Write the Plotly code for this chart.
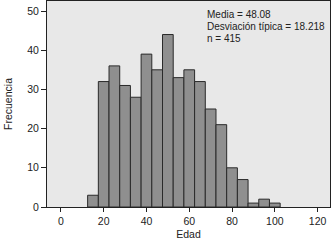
import plotly.graph_objects as go

bin_centers = [15, 20, 25, 30, 35, 40, 45, 50, 55, 60, 65, 70, 75, 80, 85, 90, 95, 100]
frequencies = [3, 32, 36, 31, 28, 39, 35, 44, 33, 35, 32, 25, 21, 10, 7, 1, 2, 1]
stats_lines = ["Media = 48.08", "Desviación típica = 18.218", "n = 415"]
x_ticks = [0, 20, 40, 60, 80, 100, 120]
y_ticks = [0, 10, 20, 30, 40, 50]

fig = go.Figure()
fig.add_trace(go.Bar(
    x=bin_centers, y=frequencies, width=5,
    marker=dict(color="#8f8f8f", line=dict(color="#2a2a2a", width=1)),
))

font = "Liberation Sans, Arial, sans-serif"
for i, t in enumerate(stats_lines):
    fig.add_annotation(
        x=0.558, xref="paper", xanchor="left",
        y=1 - (14 + 11.7 * i) / 206, yref="paper", yanchor="middle",
        text=t, showarrow=False, align="left",
        font=dict(family=font, size=10, color="#222222"),
    )

fig.update_layout(
    width=331, height=243,
    margin=dict(l=47, r=1, t=1, b=36),
    paper_bgcolor="white", plot_bgcolor="#e8e8e8",
    showlegend=False,
    font=dict(family=font, size=10.5, color="#222222"),
    xaxis=dict(
        range=[-6.5, 125.8], tickvals=x_ticks, ticks="outside", ticklen=4,
        tickcolor="#222222", showgrid=False, zeroline=False, automargin=False,
        showline=True, linecolor="#222222", linewidth=1, mirror=True,
        title=dict(text="Edad", standoff=5, font=dict(size=10.5)),
    ),
    yaxis=dict(
        range=[0, 52.55], tickvals=y_ticks, ticks="outside", ticklen=5,
        tickcolor="#222222", showgrid=False, zeroline=False, automargin=False,
        showline=True, linecolor="#222222", linewidth=1, mirror=True,
        title=dict(text="Frecuencia", standoff=12, font=dict(size=10.5)),
    ),
)

fig.write_html(
    "out.html",
    config={"displayModeBar": False},
    post_script="document.body.style.margin='0';document.body.style.overflow='hidden';",
)
